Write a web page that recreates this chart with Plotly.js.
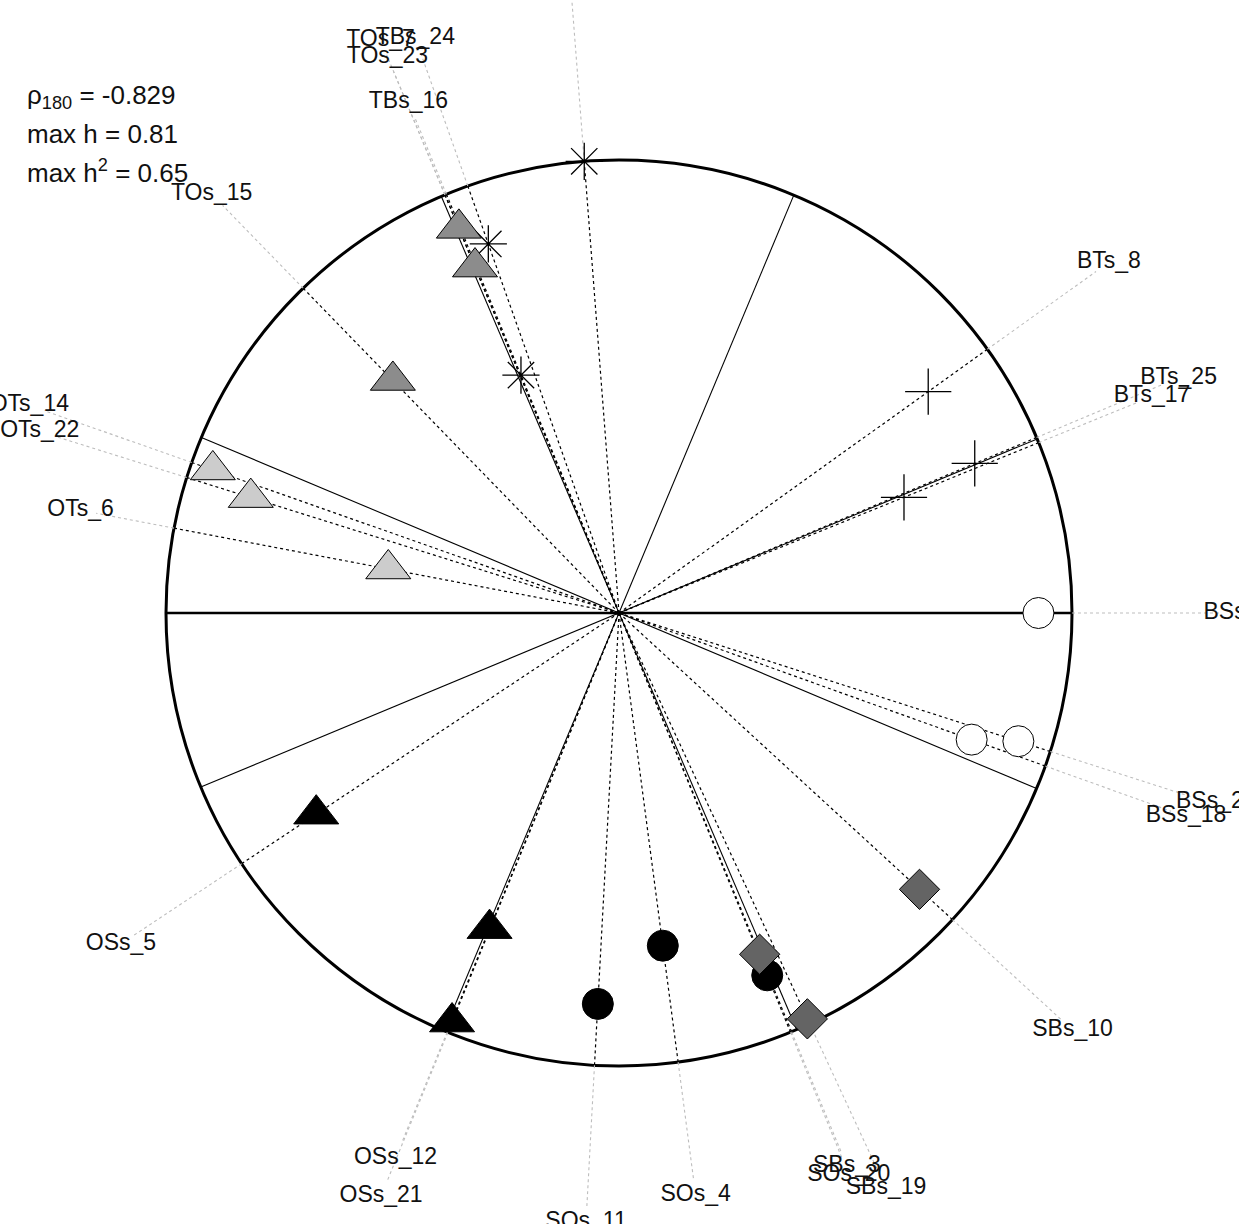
<!DOCTYPE html>
<html><head><meta charset="utf-8">
<script src="https://cdn.plot.ly/plotly-3.0.1.min.js"></script>
<style>html,body{margin:0;padding:0;background:#fff}#chart{width:1239px;height:1224px}</style>
</head><body><div id="chart"></div>
<script>
// ---- data ----
const labels = ['TBs_1','TBs_24','TBs_16','TOs_7','TOs_23','TOs_15','OTs_14','OTs_22','OTs_6',
  'OSs_5','OSs_12','OSs_21','SOs_11','SOs_4','SOs_20','SBs_3','SBs_19','SBs_10',
  'BSs_18','BSs_2','BSs_9','BTs_17','BTs_25','BTs_8'];
const groups = ['TBs','TBs','TBs','TOs','TOs','TOs','OTs','OTs','OTs',
  'OSs','OSs','OSs','SOs','SOs','SOs','SBs','SBs','SBs',
  'BSs','BSs','BSs','BTs','BTs','BTs'];
const angleDeg = [94.4,109.5,112.4,112.6,112.6,134.2,160.6,162.6,169.2,
  213.6,247.7,247.8,266.9,277.5,292.25,292.4,294.9,317.4,
  340.25,342.2,0,22.1,22.8,35.6];
const amplitude = [0.81,0.70,0.46,0.745,0.67,0.58,0.77,0.69,0.42,
  0.65,0.61,0.79,0.70,0.60,0.70,0.66,0.80,0.73,
  0.67,0.75,0.75,0.55,0.69,0.68];
const sectorBounds = [22.6,67.3,113.1,157.2];
const rho180 = -0.829;
const maxH = 0.81;
const maxH2 = 0.65;

// ---- layout helpers (label distance from centre, in circle radii) ----
const labelRadius = [1.45,1.347,1.22,1.37,1.33,1.29,1.38,1.34,1.21,
  1.32,1.30,1.39,1.346,1.296,1.34,1.32,1.40,1.36,
  1.33,1.37,1.365,1.27,1.34,1.33];

const groupStyle = {
  TBs:{symbol:'asterisk-open',size:31,color:'#000',line:{width:1.3,color:'#000'}},
  TOs:{symbol:'triangle-up',size:39,color:'#8c8c8c',line:{width:1,color:'#000'}},
  OTs:{symbol:'triangle-up',size:39,color:'#cccccc',line:{width:1,color:'#000'}},
  OSs:{symbol:'triangle-up',size:39,color:'#000000',line:{width:1,color:'#000'}},
  SOs:{symbol:'circle',size:31,color:'#000000',line:{width:1,color:'#000'}},
  SBs:{symbol:'diamond',size:31,color:'#646464',line:{width:1,color:'#000'}},
  BSs:{symbol:'circle',size:31,color:'#ffffff',line:{width:1,color:'#000'}},
  BTs:{symbol:'cross-thin-open',size:33,color:'#000',line:{width:1.3,color:'#000'}}
};

const W=1239,H=1224,CX=619,CY=613,RPX=453;
const scale = RPX/maxH;
const xr=[-CX/scale,(W-CX)/scale], yr=[-(H-CY)/scale, CY/scale];
const rad = d=>d*Math.PI/180;
const px = (a,r)=>r*Math.cos(rad(a)), py=(a,r)=>r*Math.sin(rad(a));

const traces=[];
// sector boundaries (thin solid diameters)
let bx=[],by=[];
sectorBounds.forEach(b=>{bx.push(px(b,maxH),px(b+180,maxH),null);by.push(py(b,maxH),py(b+180,maxH),null);});
traces.push({x:bx,y:by,mode:'lines',line:{color:'#000',width:1.1},hoverinfo:'skip'});
// reference axis (thick)
traces.push({x:[px(0,maxH),px(180,maxH)],y:[py(0,maxH),py(180,maxH)],mode:'lines',line:{color:'#000',width:2.6},hoverinfo:'skip'});
// rays from centre to circle
let rx=[],ry=[];
angleDeg.forEach(a=>{rx.push(0,px(a,maxH),null);ry.push(0,py(a,maxH),null);});
traces.push({x:rx,y:ry,mode:'lines',line:{color:'#000',width:1.2,dash:'dot'},hoverinfo:'skip'});
// gray leaders to labels
let lx=[],ly=[];
angleDeg.forEach((a,i)=>{const r2=maxH*(labelRadius[i]-0.035);lx.push(px(a,maxH),px(a,r2),null);ly.push(py(a,maxH),py(a,r2),null);});
traces.push({x:lx,y:ly,mode:'lines',line:{color:'#bdbdbd',width:1.1,dash:'dot'},hoverinfo:'skip'});
// markers by group
Object.keys(groupStyle).forEach(g=>{
  const xs=[],ys=[];
  groups.forEach((gg,i)=>{if(gg===g){xs.push(px(angleDeg[i],amplitude[i]));ys.push(py(angleDeg[i],amplitude[i]));}});
  traces.push({x:xs,y:ys,mode:'markers',marker:groupStyle[g],hoverinfo:'skip',cliponaxis:false});
});
// labels
traces.push({
  x:angleDeg.map((a,i)=>px(a,maxH*labelRadius[i])),
  y:angleDeg.map((a,i)=>py(a,maxH*labelRadius[i])),
  text:labels,mode:'text',textposition:'middle center',
  textfont:{family:'Liberation Sans, Arial, sans-serif',size:23,color:'#111'},
  hoverinfo:'skip'
});

const statFont={family:'Liberation Sans, Arial, sans-serif',size:26,color:'#111'};
const layout={
  width:W,height:H,autosize:false,showlegend:false,hovermode:false,
  margin:{l:0,r:0,t:0,b:0,pad:0},
  paper_bgcolor:'#fff',plot_bgcolor:'#fff',
  xaxis:{range:xr,visible:false,fixedrange:true},
  yaxis:{range:yr,visible:false,fixedrange:true},
  shapes:[{type:'circle',xref:'x',yref:'y',x0:-maxH,x1:maxH,y0:-maxH,y1:maxH,layer:'below',line:{color:'#000',width:3}}],
  annotations:[
    {xref:'paper',yref:'paper',x:25/W,y:1-97/H,xanchor:'left',yanchor:'middle',showarrow:false,font:statFont,
     text:'ρ<sub>180</sub> = '+rho180.toFixed(3)},
    {xref:'paper',yref:'paper',x:25/W,y:1-134/H,xanchor:'left',yanchor:'middle',showarrow:false,font:statFont,
     text:'max h = '+maxH.toFixed(2)},
    {xref:'paper',yref:'paper',x:25/W,y:1-172/H,xanchor:'left',yanchor:'middle',showarrow:false,font:statFont,
     text:'max h<sup>2</sup> = '+maxH2.toFixed(2)}
  ]
};
Plotly.newPlot('chart',traces,layout,{displayModeBar:false,staticPlot:true});
</script></body></html>
